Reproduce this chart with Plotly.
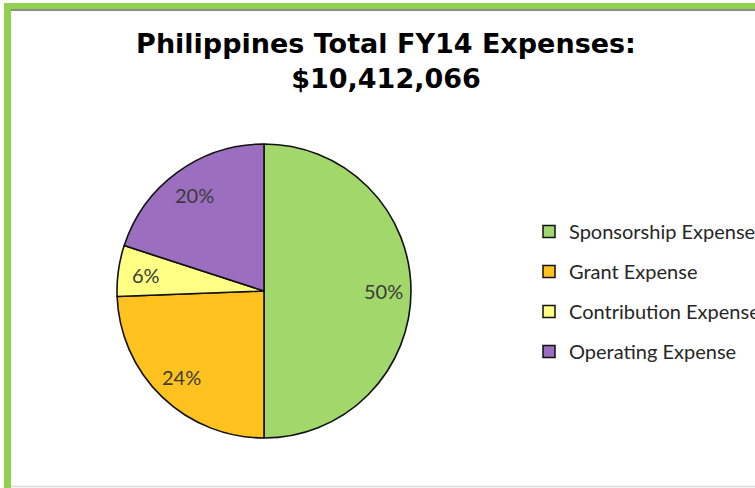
import math
import plotly.graph_objects as go

categories = ["Sponsorship Expense", "Grant Expense", "Contribution Expense", "Operating Expense"]
shares = [50.0, 24.4, 5.6, 20.0]
colors = ["#A2D76B", "#FFC21F", "#FFFF84", "#9B6EBF"]
title_lines = ["Philippines Total FY14 Expenses:", "$10,412,066"]

W, H = 755, 488
CX, CY, R = 264, 291, 147          # pie centre / radius in pixels
LABEL_R = 0.81                     # label distance as fraction of radius

fig = go.Figure()

fig.add_trace(go.Pie(
    labels=categories,
    values=shares,
    sort=False,
    direction="clockwise",
    rotation=0,
    marker=dict(colors=colors, line=dict(color="#111111", width=1.6)),
    textinfo="none",
    domain=dict(x=[(CX - R) / W, (CX + R) / W], y=[(H - CY - R) / H, (H - CY + R) / H]),
    showlegend=False,
    hoverinfo="label+percent",
))

# percentage labels placed at each slice's mid-angle (computed from the data)
total = sum(shares)
annotations = []
cum = 0.0
for v in shares:
    mid = (cum + v / 2) / total * 2 * math.pi
    cum += v
    ax = CX + R * LABEL_R * math.sin(mid)
    ay = CY - R * LABEL_R * math.cos(mid)
    annotations.append(dict(
        x=ax / W, y=1 - ay / H, xref="paper", yref="paper",
        text=f"{round(v / total * 100):d}%", showarrow=False,
        xanchor="center", yanchor="middle",
        font=dict(family="Lato", size=20, color="#3a3a3a"),
    ))

# legend entries (one group per category to reproduce the spacing)
for name, col in zip(categories, colors):
    fig.add_trace(go.Scatter(
        x=[None], y=[None], mode="markers", name=name,
        legendgroup=name,
        marker=dict(symbol="square", size=12, color=col, line=dict(color="#111111", width=1.5)),
    ))

fig.update_layout(
    width=W, height=H,
    margin=dict(l=0, r=0, t=0, b=0, autoexpand=False),
    paper_bgcolor="white", plot_bgcolor="white",
    title=dict(
        text="<br>".join(title_lines),
        x=386 / W, xanchor="center",
        y=1 - 53 / H, yanchor="top",
        font=dict(family="DejaVu Sans", size=27, color="#000000", weight="bold"),
    ),
    xaxis=dict(visible=False), yaxis=dict(visible=False),
    legend=dict(
        x=529 / W, xanchor="left",
        y=1 - 212 / H, yanchor="top",
        font=dict(family="Lato", size=20, color="#262626"),
        tracegroupgap=11,
        bgcolor="rgba(0,0,0,0)",
        itemclick=False, itemdoubleclick=False,
    ),
    annotations=annotations,
    shapes=[
        # green outer frame (left and top)
        dict(type="line", xref="paper", yref="paper", x0=7.5 / W, x1=7.5 / W, y0=0, y1=1 - 3 / H,
             line=dict(color="#92D050", width=7)),
        dict(type="line", xref="paper", yref="paper", x0=4 / W, x1=1, y0=1 - 6 / H, y1=1 - 6 / H,
             line=dict(color="#92D050", width=6)),
        # inner grey frame
        dict(type="line", xref="paper", yref="paper", x0=11 / W, x1=1, y0=1 - 10 / H, y1=1 - 10 / H,
             line=dict(color="#8C8C8C", width=2)),
        dict(type="line", xref="paper", yref="paper", x0=11 / W, x1=1, y0=1 - 486.5 / H, y1=1 - 486.5 / H,
             line=dict(color="#D9D9D9", width=1.5)),
    ],
)

fig.write_html("out.html", config={"displayModeBar": False},
               post_script="document.body.style.margin='0px';")
